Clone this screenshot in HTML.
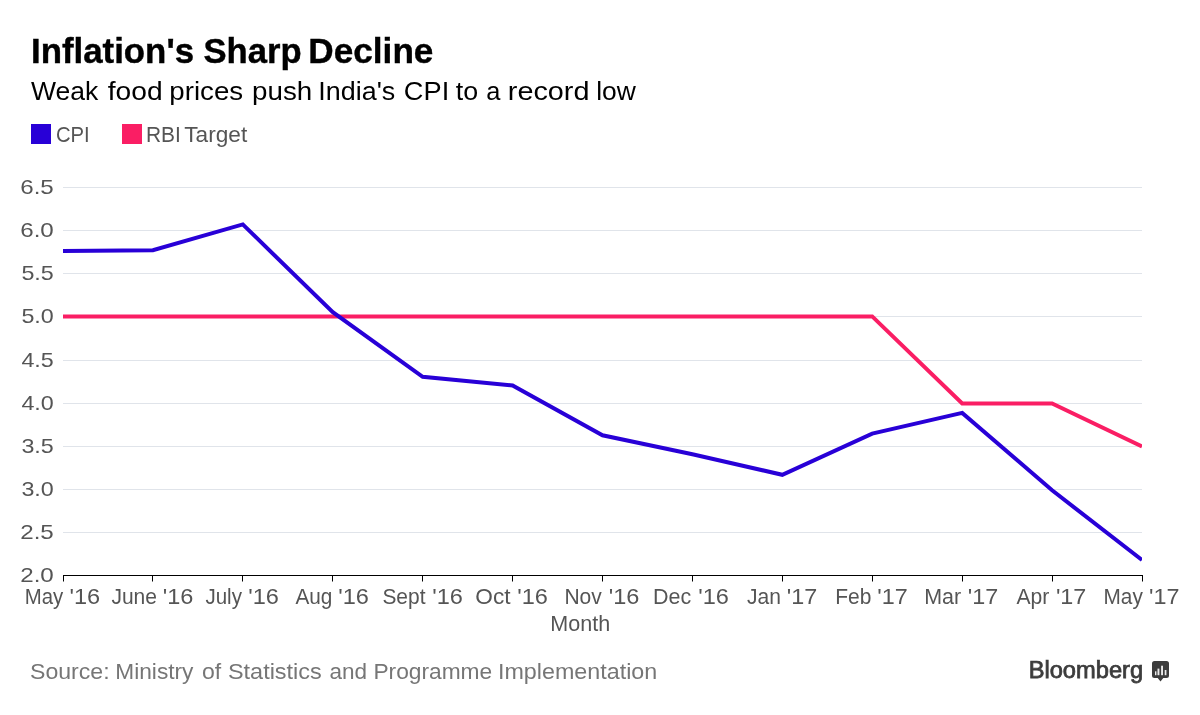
<!DOCTYPE html>
<html><head><meta charset="utf-8"><title>Inflation's Sharp Decline</title>
<style>
html,body{margin:0;padding:0;background:#fff;}
body{width:1200px;height:715px;overflow:hidden;font-family:"Liberation Sans",sans-serif;}
svg{display:block;will-change:transform;font-family:"Liberation Sans",sans-serif;}
</style></head><body>
<svg width="1200" height="715" viewBox="0 0 1200 715">
<rect width="1200" height="715" fill="#fff"/>
<defs><clipPath id="cp"><rect x="63" y="170" width="1079" height="405"/></clipPath></defs>
<rect x="31" y="124" width="20" height="20" fill="#2800d7"/>
<rect x="122" y="124" width="20" height="20" fill="#fa1e64"/>
<line x1="63.0" x2="1142.0" y1="187.5" y2="187.5" stroke="#e0e4ea" stroke-width="1"/>
<line x1="63.0" x2="1142.0" y1="230.5" y2="230.5" stroke="#e0e4ea" stroke-width="1"/>
<line x1="63.0" x2="1142.0" y1="273.5" y2="273.5" stroke="#e0e4ea" stroke-width="1"/>
<line x1="63.0" x2="1142.0" y1="316.5" y2="316.5" stroke="#e0e4ea" stroke-width="1"/>
<line x1="63.0" x2="1142.0" y1="360.5" y2="360.5" stroke="#e0e4ea" stroke-width="1"/>
<line x1="63.0" x2="1142.0" y1="403.5" y2="403.5" stroke="#e0e4ea" stroke-width="1"/>
<line x1="63.0" x2="1142.0" y1="446.5" y2="446.5" stroke="#e0e4ea" stroke-width="1"/>
<line x1="63.0" x2="1142.0" y1="489.5" y2="489.5" stroke="#e0e4ea" stroke-width="1"/>
<line x1="63.0" x2="1142.0" y1="532.5" y2="532.5" stroke="#e0e4ea" stroke-width="1"/>
<line x1="63.0" x2="1143.0" y1="575.5" y2="575.5" stroke="#000" stroke-width="1"/>
<line x1="63.5" x2="63.5" y1="575.0" y2="581.5" stroke="#000" stroke-width="1"/>
<line x1="152.5" x2="152.5" y1="575.0" y2="581.5" stroke="#000" stroke-width="1"/>
<line x1="242.5" x2="242.5" y1="575.0" y2="581.5" stroke="#000" stroke-width="1"/>
<line x1="332.5" x2="332.5" y1="575.0" y2="581.5" stroke="#000" stroke-width="1"/>
<line x1="422.5" x2="422.5" y1="575.0" y2="581.5" stroke="#000" stroke-width="1"/>
<line x1="512.5" x2="512.5" y1="575.0" y2="581.5" stroke="#000" stroke-width="1"/>
<line x1="602.5" x2="602.5" y1="575.0" y2="581.5" stroke="#000" stroke-width="1"/>
<line x1="692.5" x2="692.5" y1="575.0" y2="581.5" stroke="#000" stroke-width="1"/>
<line x1="782.5" x2="782.5" y1="575.0" y2="581.5" stroke="#000" stroke-width="1"/>
<line x1="872.5" x2="872.5" y1="575.0" y2="581.5" stroke="#000" stroke-width="1"/>
<line x1="962.5" x2="962.5" y1="575.0" y2="581.5" stroke="#000" stroke-width="1"/>
<line x1="1052.5" x2="1052.5" y1="575.0" y2="581.5" stroke="#000" stroke-width="1"/>
<line x1="1142.5" x2="1142.5" y1="575.0" y2="581.5" stroke="#000" stroke-width="1"/>
<polyline points="63.0,316.4 152.9,316.4 242.8,316.4 332.8,316.4 422.7,316.4 512.6,316.4 602.5,316.4 692.4,316.4 782.3,316.4 872.2,316.4 962.2,403.4 1052.1,403.4 1142.0,446.4" fill="none" stroke="#fa1e64" stroke-width="4" stroke-linejoin="miter" clip-path="url(#cp)"/>
<polyline points="63.0,251.1 152.9,250.2 242.8,224.4 332.8,312.2 422.7,376.8 512.6,385.4 602.5,435.3 692.4,454.2 782.3,474.8 872.2,433.6 962.2,412.9 1052.1,490.3 1142.0,560.0" fill="none" stroke="#2800d7" stroke-width="4" stroke-linejoin="miter" clip-path="url(#cp)"/>
<g>
<text x="30.97" y="63.0" font-size="34.4" font-weight="bold" fill="#000" textLength="163.07" lengthAdjust="spacingAndGlyphs" stroke="#000" stroke-width="0.4">Inflation's</text>
<text x="203.50" y="63.0" font-size="34.4" font-weight="bold" fill="#000" textLength="98.11" lengthAdjust="spacingAndGlyphs" stroke="#000" stroke-width="0.4">Sharp</text>
<text x="308.35" y="63.0" font-size="34.4" font-weight="bold" fill="#000" textLength="125.10" lengthAdjust="spacingAndGlyphs" stroke="#000" stroke-width="0.4">Decline</text>
<text x="30.90" y="99.8" font-size="26.4" fill="#000" textLength="67.29" lengthAdjust="spacingAndGlyphs">Weak</text>
<text x="107.70" y="99.8" font-size="26.4" fill="#000" textLength="54.89" lengthAdjust="spacingAndGlyphs">food</text>
<text x="169.35" y="99.8" font-size="26.4" fill="#000" textLength="73.85" lengthAdjust="spacingAndGlyphs">prices</text>
<text x="252.05" y="99.8" font-size="26.4" fill="#000" textLength="60.22" lengthAdjust="spacingAndGlyphs">push</text>
<text x="318.36" y="99.8" font-size="26.4" fill="#000" textLength="76.84" lengthAdjust="spacingAndGlyphs">India's</text>
<text x="403.87" y="99.8" font-size="26.4" fill="#000" textLength="45.33" lengthAdjust="spacingAndGlyphs">CPI</text>
<text x="455.80" y="99.8" font-size="26.4" fill="#000" textLength="22.39" lengthAdjust="spacingAndGlyphs">to</text>
<text x="486.34" y="99.8" font-size="26.4" fill="#000" textLength="14.15" lengthAdjust="spacingAndGlyphs">a</text>
<text x="507.81" y="99.8" font-size="26.4" fill="#000" textLength="81.62" lengthAdjust="spacingAndGlyphs">record</text>
<text x="596.20" y="99.8" font-size="26.4" fill="#000" textLength="39.66" lengthAdjust="spacingAndGlyphs">low</text>
<text x="55.95" y="141.5" font-size="21.4" fill="#555" textLength="33.79" lengthAdjust="spacingAndGlyphs">CPI</text>
<text x="146.02" y="141.5" font-size="21.4" fill="#555" textLength="34.88" lengthAdjust="spacingAndGlyphs">RBI</text>
<text x="184.30" y="141.5" font-size="21.4" fill="#555" textLength="62.94" lengthAdjust="spacingAndGlyphs">Target</text>
<text x="29.98" y="678.8" font-size="22.7" fill="#767676" textLength="79.65" lengthAdjust="spacingAndGlyphs">Source:</text>
<text x="115.30" y="678.8" font-size="22.7" fill="#767676" textLength="78.14" lengthAdjust="spacingAndGlyphs">Ministry</text>
<text x="202.00" y="678.8" font-size="22.7" fill="#767676" textLength="19.19" lengthAdjust="spacingAndGlyphs">of</text>
<text x="227.97" y="678.8" font-size="22.7" fill="#767676" textLength="93.79" lengthAdjust="spacingAndGlyphs">Statistics</text>
<text x="329.40" y="678.8" font-size="22.7" fill="#767676" textLength="37.61" lengthAdjust="spacingAndGlyphs">and</text>
<text x="373.40" y="678.8" font-size="22.7" fill="#767676" textLength="118.82" lengthAdjust="spacingAndGlyphs">Programme</text>
<text x="497.95" y="678.8" font-size="22.7" fill="#767676" textLength="159.29" lengthAdjust="spacingAndGlyphs">Implementation</text>
<text x="24.74" y="603.8" font-size="21.2" fill="#555" textLength="38.47" lengthAdjust="spacingAndGlyphs">May</text>
<text x="69.49" y="603.8" font-size="21.2" fill="#555" textLength="30.68" lengthAdjust="spacingAndGlyphs">'16</text>
<text x="111.40" y="603.8" font-size="21.2" fill="#555" textLength="45.58" lengthAdjust="spacingAndGlyphs">June</text>
<text x="162.79" y="603.8" font-size="21.2" fill="#555" textLength="30.68" lengthAdjust="spacingAndGlyphs">'16</text>
<text x="205.40" y="603.8" font-size="21.2" fill="#555" textLength="36.51" lengthAdjust="spacingAndGlyphs">July</text>
<text x="248.19" y="603.8" font-size="21.2" fill="#555" textLength="30.68" lengthAdjust="spacingAndGlyphs">'16</text>
<text x="295.40" y="603.8" font-size="21.2" fill="#555" textLength="36.97" lengthAdjust="spacingAndGlyphs">Aug</text>
<text x="338.19" y="603.8" font-size="21.2" fill="#555" textLength="30.68" lengthAdjust="spacingAndGlyphs">'16</text>
<text x="382.40" y="603.8" font-size="21.2" fill="#555" textLength="43.09" lengthAdjust="spacingAndGlyphs">Sept</text>
<text x="432.19" y="603.8" font-size="21.2" fill="#555" textLength="30.68" lengthAdjust="spacingAndGlyphs">'16</text>
<text x="475.33" y="603.8" font-size="21.2" fill="#555" textLength="35.15" lengthAdjust="spacingAndGlyphs">Oct</text>
<text x="517.19" y="603.8" font-size="21.2" fill="#555" textLength="30.68" lengthAdjust="spacingAndGlyphs">'16</text>
<text x="564.41" y="603.8" font-size="21.2" fill="#555" textLength="37.39" lengthAdjust="spacingAndGlyphs">Nov</text>
<text x="608.79" y="603.8" font-size="21.2" fill="#555" textLength="30.68" lengthAdjust="spacingAndGlyphs">'16</text>
<text x="652.99" y="603.8" font-size="21.2" fill="#555" textLength="38.20" lengthAdjust="spacingAndGlyphs">Dec</text>
<text x="698.19" y="603.8" font-size="21.2" fill="#555" textLength="30.68" lengthAdjust="spacingAndGlyphs">'16</text>
<text x="746.90" y="603.8" font-size="21.2" fill="#555" textLength="33.98" lengthAdjust="spacingAndGlyphs">Jan</text>
<text x="786.70" y="603.8" font-size="21.2" fill="#555" textLength="30.47" lengthAdjust="spacingAndGlyphs">'17</text>
<text x="835.21" y="603.8" font-size="21.2" fill="#555" textLength="36.17" lengthAdjust="spacingAndGlyphs">Feb</text>
<text x="877.20" y="603.8" font-size="21.2" fill="#555" textLength="30.47" lengthAdjust="spacingAndGlyphs">'17</text>
<text x="924.19" y="603.8" font-size="21.2" fill="#555" textLength="36.97" lengthAdjust="spacingAndGlyphs">Mar</text>
<text x="967.70" y="603.8" font-size="21.2" fill="#555" textLength="30.47" lengthAdjust="spacingAndGlyphs">'17</text>
<text x="1016.50" y="603.8" font-size="21.2" fill="#555" textLength="32.86" lengthAdjust="spacingAndGlyphs">Apr</text>
<text x="1055.90" y="603.8" font-size="21.2" fill="#555" textLength="30.47" lengthAdjust="spacingAndGlyphs">'17</text>
<text x="1103.52" y="603.8" font-size="21.2" fill="#555" textLength="39.28" lengthAdjust="spacingAndGlyphs">May</text>
<text x="1149.10" y="603.8" font-size="21.2" fill="#555" textLength="30.47" lengthAdjust="spacingAndGlyphs">'17</text>
<text x="550.28" y="631.0" font-size="21.2" fill="#555" textLength="59.91" lengthAdjust="spacingAndGlyphs">Month</text>
<text x="20.22" y="193.9" font-size="20.4" fill="#555" textLength="33.59" lengthAdjust="spacingAndGlyphs">6.5</text>
<text x="20.22" y="236.9" font-size="20.4" fill="#555" textLength="33.59" lengthAdjust="spacingAndGlyphs">6.0</text>
<text x="21.40" y="279.9" font-size="20.4" fill="#555" textLength="32.39" lengthAdjust="spacingAndGlyphs">5.5</text>
<text x="21.40" y="322.9" font-size="20.4" fill="#555" textLength="32.39" lengthAdjust="spacingAndGlyphs">5.0</text>
<text x="21.40" y="366.9" font-size="20.4" fill="#555" textLength="32.39" lengthAdjust="spacingAndGlyphs">4.5</text>
<text x="21.40" y="409.9" font-size="20.4" fill="#555" textLength="32.39" lengthAdjust="spacingAndGlyphs">4.0</text>
<text x="21.40" y="452.9" font-size="20.4" fill="#555" textLength="32.39" lengthAdjust="spacingAndGlyphs">3.5</text>
<text x="21.40" y="495.9" font-size="20.4" fill="#555" textLength="32.39" lengthAdjust="spacingAndGlyphs">3.0</text>
<text x="20.22" y="539.0" font-size="20.4" fill="#555" textLength="33.59" lengthAdjust="spacingAndGlyphs">2.5</text>
<text x="20.22" y="582.0" font-size="20.4" fill="#555" textLength="33.59" lengthAdjust="spacingAndGlyphs">2.0</text>
<text x="1028.67" y="678.3" font-size="23.0" fill="#3c3c3c" textLength="114.44" lengthAdjust="spacingAndGlyphs" stroke="#3c3c3c" stroke-width="0.75">Bloomberg</text>
</g>
<g>
<path d="M1154.5 661 h12 a2.5 2.5 0 0 1 2.5 2.5 v12 a2.5 2.5 0 0 1 -2.5 2.5 h-3.2 l-2.8 3.4 l-2.8 -3.4 h-3.2 a2.5 2.5 0 0 1 -2.5 -2.5 v-12 a2.5 2.5 0 0 1 2.5 -2.5 z" fill="#3c3c3c"/>
<rect x="1155" y="671.3" width="1.4" height="3.9" fill="#eaeaea"/>
<rect x="1157.5" y="668.6" width="1.9" height="6.6" fill="#eaeaea"/>
<rect x="1161.1" y="665.7" width="1.9" height="9.5" fill="#eaeaea"/>
<rect x="1164.7" y="670" width="1.7" height="5.2" fill="#eaeaea"/>
</g>
</svg></body></html>
